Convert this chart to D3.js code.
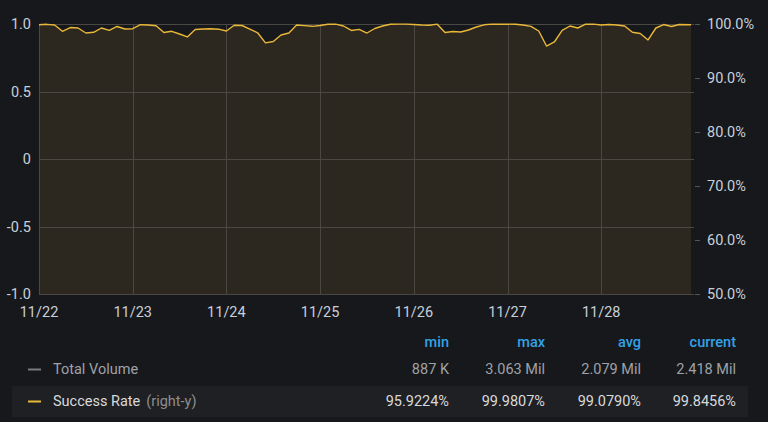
<!DOCTYPE html>
<html>
<head>
<meta charset="utf-8">
<script src="https://cdn.jsdelivr.net/npm/d3@7"></script>
<style>
	html, body { margin: 0; padding: 0; background: #17181c; }
	svg { display: block; font-family: Roboto, "Open Sans", sans-serif; }
</style>
</head>
<body>
<svg id="chart" width="768" height="422"></svg>
<script>
// hours since 11/22 00:00, two-hour sampling
var hours = d3.range(0, 166, 2).concat([167]);

// success rate (%)
var successRate = [
	99.87, 99.94, 99.81, 98.65, 99.35, 99.26, 98.33, 98.46, 99.26, 98.83, 99.54, 99.07,
	99.13, 99.87, 99.81, 99.67, 98.43, 98.65, 98.15, 97.60, 98.98, 99.07, 99.11, 99.04,
	98.70, 99.76, 99.72, 99.07, 98.37, 96.50, 96.76, 97.96, 98.33, 99.81, 99.69, 99.57,
	99.72, 99.96, 99.97, 99.63, 98.80, 99.00, 98.33, 99.17, 99.63, 99.96, 99.98, 99.97,
	99.90, 99.81, 99.76, 99.97, 98.43, 98.61, 98.52, 98.89, 99.44, 99.85, 99.97, 99.94,
	99.97, 99.96, 99.81, 99.57, 98.70, 95.92, 96.67, 98.80, 99.63, 99.26, 99.96, 99.97,
	99.81, 99.90, 99.81, 99.63, 98.46, 98.24, 97.05, 99.26, 99.90, 99.54, 99.90, 99.85
];

var leftTicks = [1.0, 0.5, 0, -0.5, -1.0];
var rightTicks = [100, 90, 80, 70, 60, 50];
var dayLabels = ["11/22", "11/23", "11/24", "11/25", "11/26", "11/27", "11/28"];

var legendColumns = ["min", "max", "avg", "current"];
var legendNames = ["Total Volume", "Success Rate"];
var totalVolumeStats = ["887 K", "3.063 Mil", "2.079 Mil", "2.418 Mil"];
var successRateStats = ["95.9224%", "99.9807%", "99.0790%", "99.8456%"];

var startDate = new Date(2020, 10, 22);
var toDate = function (h) { return new Date(startDate.getTime() + h * 3600 * 1000); };

var series = hours.map(function (h, i) { return { t: toDate(h), v: successRate[i] }; });
var dayDates = dayLabels.map(function (d, i) { return toDate(i * 24); });

var svg = d3.select("#chart");
var plot = { left: 39, right: 691, top: 24, bottom: 294 };
var fontSize = 14.5;

var x = d3.scaleTime()
	.domain([startDate, toDate(167)])
	.range([plot.left, plot.right]);

var yLeft = d3.scaleLinear().domain([-1, 1]).range([plot.bottom, plot.top]);
var yRight = d3.scaleLinear().domain([50, 100]).range([plot.bottom, plot.top]);

var textColor = "#c7d0d9";
var gridColor = "#4a4842";
var lineColor = "#eab839";

// area fill under the success rate line
var area = d3.area()
	.x(function (d) { return x(d.t); })
	.y0(plot.bottom)
	.y1(function (d) { return yRight(d.v); });

svg.append("path")
	.datum(series)
	.attr("d", area)
	.attr("fill", lineColor)
	.attr("fill-opacity", 0.1);

// grid
svg.append("g").selectAll("line")
	.data(leftTicks)
	.join("line")
	.attr("x1", plot.left).attr("x2", 694)
	.attr("y1", function (d) { return Math.round(yLeft(d)) + 0.5; })
	.attr("y2", function (d) { return Math.round(yLeft(d)) + 0.5; })
	.attr("stroke", gridColor);

svg.append("g").selectAll("line")
	.data(dayDates)
	.join("line")
	.attr("x1", function (d) { return Math.round(x(d)) + 0.5; })
	.attr("x2", function (d) { return Math.round(x(d)) + 0.5; })
	.attr("y1", plot.top).attr("y2", plot.bottom)
	.attr("stroke", gridColor);

// left axis labels
svg.append("g").selectAll("text")
	.data(leftTicks)
	.join("text")
	.attr("x", 31)
	.attr("y", function (d) { return yLeft(d); })
	.attr("dy", "0.35em")
	.attr("text-anchor", "end")
	.attr("fill", textColor)
	.attr("font-size", fontSize)
	.text(function (d) { return d === 0 ? "0" : d3.format(".1f")(d).replace("−", "-"); });

// right axis ticks and labels
var rightAxis = svg.append("g");
rightAxis.selectAll("line")
	.data(rightTicks)
	.join("line")
	.attr("x1", 695).attr("x2", 700)
	.attr("y1", function (d) { return Math.round(yRight(d)) + 0.5; })
	.attr("y2", function (d) { return Math.round(yRight(d)) + 0.5; })
	.attr("stroke", "#555");
rightAxis.selectAll("text")
	.data(rightTicks)
	.join("text")
	.attr("x", 707)
	.attr("y", function (d) { return yRight(d); })
	.attr("dy", "0.35em")
	.attr("fill", textColor)
	.attr("font-size", fontSize)
	.text(function (d) { return d3.format(".1f")(d) + "%"; });

// x axis labels
svg.append("g").selectAll("text")
	.data(dayDates)
	.join("text")
	.attr("x", function (d) { return x(d); })
	.attr("y", 312)
	.attr("dy", "0.35em")
	.attr("text-anchor", "middle")
	.attr("fill", textColor)
	.attr("font-size", fontSize)
	.text(function (d, i) { return dayLabels[i]; });

// the success rate line
var line = d3.line()
	.x(function (d) { return x(d.t); })
	.y(function (d) { return yRight(d.v); });

svg.append("path")
	.datum(series)
	.attr("d", line)
	.attr("fill", "none")
	.attr("stroke", lineColor)
	.attr("stroke-width", 1.4)
	.attr("stroke-linejoin", "round");

// legend table
var colRight = [449, 545, 641, 736];
var legend = svg.append("g");

legend.append("rect")
	.attr("x", 12).attr("y", 386)
	.attr("width", 736).attr("height", 31)
	.attr("fill", "#1f2024");

legend.selectAll("text.head")
	.data(legendColumns)
	.join("text")
	.attr("class", "head")
	.attr("x", function (d, i) { return colRight[i]; })
	.attr("y", 342)
	.attr("dy", "0.35em")
	.attr("text-anchor", "end")
	.attr("fill", "#33a2e5")
	.attr("font-size", fontSize)
	.attr("font-weight", 500)
	.text(function (d) { return d; });

var rows = [
	{ name: legendNames[0], stats: totalVolumeStats, y: 369, swatch: "#7b7b7b", nameColor: "#9fa2a8", valColor: "#9fa2a8" },
	{ name: legendNames[1], stats: successRateStats, y: 401, swatch: lineColor, nameColor: "#d8d9da", valColor: "#d8d9da" }
];

rows.forEach(function (r, ri) {
	legend.append("line")
		.attr("x1", 28).attr("x2", 41)
		.attr("y1", r.y + 0.5).attr("y2", r.y + 0.5)
		.attr("stroke", r.swatch)
		.attr("stroke-width", 2);

	var label = legend.append("text")
		.attr("x", 53)
		.attr("y", r.y)
		.attr("dy", "0.35em")
		.attr("font-size", fontSize)
		.attr("fill", r.nameColor)
		.text(r.name);

	if (ri === 1) {
		label.append("tspan")
			.attr("fill", "#8e8e8e")
			.attr("dx", 6)
			.text("(right-y)");
	}

	legend.selectAll("text.val" + ri)
		.data(r.stats)
		.join("text")
		.attr("class", "val" + ri)
		.attr("x", function (d, i) { return colRight[i]; })
		.attr("y", r.y)
		.attr("dy", "0.35em")
		.attr("text-anchor", "end")
		.attr("font-size", fontSize)
		.attr("fill", r.valColor)
		.text(function (d) { return d; });
});
</script>
</body>
</html>
